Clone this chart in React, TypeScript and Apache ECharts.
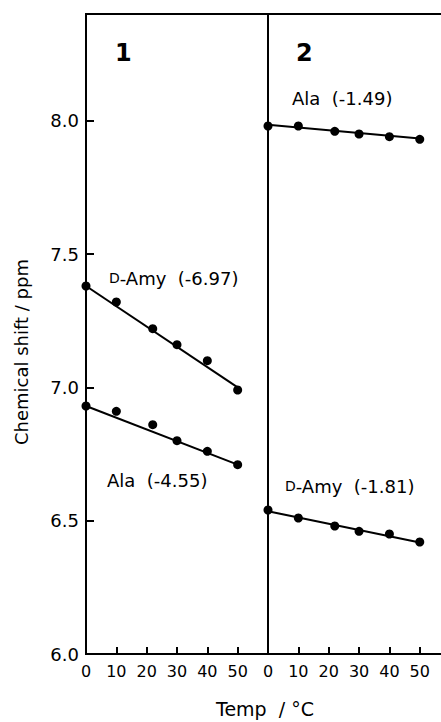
import React, { useEffect, useRef } from "react";
import * as echarts from "echarts";

const temps = [0, 10, 22, 30, 40, 50];
const panel1DAmy = [7.38, 7.32, 7.22, 7.16, 7.1, 6.99];
const panel1Ala = [6.93, 6.91, 6.86, 6.8, 6.76, 6.71];
const panel2Ala = [7.98, 7.98, 7.96, 7.95, 7.94, 7.93];
const panel2DAmy = [6.54, 6.51, 6.48, 6.46, 6.45, 6.42];

const fitX = [0, 50];
const panel1DAmyFit = [7.38, 7.0];
const panel1AlaFit = [6.93, 6.71];
const panel2AlaFit = [7.985, 7.933];
const panel2DAmyFit = [6.535, 6.418];

const xTicks = [0, 10, 20, 30, 40, 50];
const yTicks = ["6.0", "6.5", "7.0", "7.5", "8.0"];

const FONT = "DejaVu Sans";

const pts = (xs: number[], ys: number[]) => xs.map((x, i) => [x, ys[i]]);

export default function App() {
  const ref = useRef<HTMLDivElement>(null);
  useEffect(() => {
    const chart = echarts.init(ref.current!, null, { renderer: "svg" });
    const axisLine = { show: true, lineStyle: { color: "#000", width: 2 } };
    const xAxisBase = (gridIndex: number, max: number) => ({
      type: "value",
      gridIndex,
      min: 0,
      max,
      interval: 10,
      axisLine,
      axisTick: { show: true, inside: true, length: 7, lineStyle: { color: "#000", width: 2 } },
      axisLabel: {
        show: true,
        margin: 9,
        color: "#000",
        fontFamily: FONT,
        fontSize: 16,
        showMaxLabel: false,
        formatter: (v: number) => (xTicks.includes(v) ? String(v) : ""),
      },
      splitLine: { show: false },
    });
    const scatter = (xi: number, ys: number[]) => ({
      type: "scatter",
      xAxisIndex: xi,
      yAxisIndex: xi,
      data: pts(temps, ys),
      symbol: "circle",
      symbolSize: 9,
      itemStyle: { color: "#000", opacity: 1 },
      z: 3,
    });
    const fit = (xi: number, ys: number[]) => ({
      type: "line",
      xAxisIndex: xi,
      yAxisIndex: xi,
      data: pts(fitX, ys),
      showSymbol: false,
      symbol: "none",
      lineStyle: { color: "#000", width: 2 },
      z: 2,
    });
    const txt = (x: number, y: number, rich: string) => ({
      type: "text",
      x,
      y,
      style: {
        text: rich,
        fill: "#000",
        font: `18px "${FONT}"`,
        textVerticalAlign: "middle",
        rich: { sc: { fontSize: 14, fontFamily: FONT, fill: "#000" } },
      },
    });
    chart.setOption({
      animation: false,
      grid: [
        { left: 86, width: 182, top: 14, bottom: 68, show: true, borderColor: "#000", borderWidth: 2 },
        { left: 268, right: 0, top: 14, bottom: 68, show: false },
      ],
      xAxis: [
        xAxisBase(0, 60),
        xAxisBase(1, 57),
        {
          type: "value",
          gridIndex: 1,
          position: "top",
          min: 0,
          max: 57,
          axisLine,
          axisTick: { show: false },
          axisLabel: { show: false },
          splitLine: { show: false },
        },
      ],
      yAxis: [
        {
          type: "value",
          gridIndex: 0,
          min: 6,
          max: 8.4,
          interval: 0.5,
          axisLine,
          axisTick: { show: true, inside: true, length: 8, lineStyle: { color: "#000", width: 2 } },
          axisLabel: {
            margin: 7,
            color: "#000",
            fontFamily: FONT,
            fontSize: 18,
            showMaxLabel: false,
            formatter: (v: number) => {
              const s = v.toFixed(1);
              return yTicks.includes(s) ? s : "";
            },
          },
          splitLine: { show: false },
        },
        {
          type: "value",
          gridIndex: 1,
          min: 6,
          max: 8.4,
          interval: 0.5,
          axisLine,
          axisTick: { show: false },
          axisLabel: { show: false },
          splitLine: { show: false },
        },
      ],
      series: [
        scatter(0, panel1DAmy),
        fit(0, panel1DAmyFit),
        scatter(0, panel1Ala),
        fit(0, panel1AlaFit),
        scatter(1, panel2Ala),
        fit(1, panel2AlaFit),
        scatter(1, panel2DAmy),
        fit(1, panel2DAmyFit),
      ],
      graphic: [
        {
          type: "text",
          x: 115,
          y: 53,
          style: { text: "1", fill: "#000", font: `bold 24px "${FONT}"`, textVerticalAlign: "middle" },
        },
        {
          type: "text",
          x: 296,
          y: 53,
          style: { text: "2", fill: "#000", font: `bold 24px "${FONT}"`, textVerticalAlign: "middle" },
        },
        txt(292, 98, "Ala  (-1.49)"),
        txt(109, 278, "{sc|D}-Amy  (-6.97)"),
        txt(107, 480, "Ala  (-4.55)"),
        txt(285, 486, "{sc|D}-Amy  (-1.81)"),
        {
          type: "text",
          x: 265,
          y: 709,
          style: {
            text: "Temp  / °C",
            fill: "#000",
            font: `19px "${FONT}"`,
            textAlign: "center",
            textVerticalAlign: "middle",
          },
        },
        {
          type: "text",
          x: 21,
          y: 352,
          rotation: Math.PI / 2,
          style: {
            text: "Chemical shift / ppm",
            fill: "#000",
            font: `18px "${FONT}"`,
            textAlign: "center",
            textVerticalAlign: "middle",
          },
        },
      ],
    });
    return () => chart.dispose();
  }, []);
  return (
    <div
      ref={ref}
      style={{ position: "fixed", left: 0, top: 0, width: 441, height: 722, background: "#fff" }}
    />
  );
}
